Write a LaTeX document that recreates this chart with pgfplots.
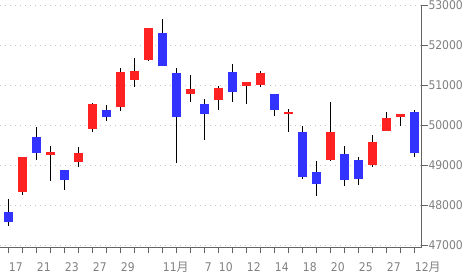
\documentclass[border=0pt]{standalone}
\usepackage{fontspec}
\usepackage{pgfplots}
\usepackage{pgfplotstable}
\pgfplotsset{compat=1.18}
\setmainfont{DejaVu Sans}
\newfontfamily\tickfont[FakeStretch=0.9]{DejaVu Sans}
\newfontfamily\cjk{Noto Sans CJK JP}
\definecolor{candlered}{RGB}{255,34,34}
\definecolor{candleblue}{RGB}{51,51,255}
\definecolor{labelgray}{RGB}{128,128,128}
\definecolor{axisgray}{RGB}{100,100,100}
\definecolor{gridgray}{RGB}{195,195,195}

% x open high low close
\pgfplotstableread{
x open high low close
1 48330 49210 48270 49210
3 49260 49480 48610 49330
5 49080 49460 48970 49310
6 49920 50550 49830 50530
8 50460 51430 50360 51330
9 51130 51680 50970 51360
10 51630 52430 51610 52430
13 50780 51260 50580 50910
15 50630 50980 50380 50930
17 50980 51080 50530 51080
18 51010 51360 50960 51310
20 50280 50410 49830 50330
23 49130 50580 49110 49830
26 49010 49760 48960 49580
27 49860 50330 49860 50180
28 50210 50280 49980 50280
}\updata

\pgfplotstableread{
x open high low close
0 47830 48160 47490 47590
2 49710 49960 49130 49320
4 48880 48880 48380 48630
7 50380 50510 50110 50210
11 52310 52660 51480 51480
12 51310 51430 49060 50210
14 50530 50660 49630 50280
16 51330 51530 50580 50830
19 50780 50780 50230 50380
21 49830 49980 48660 48710
22 48830 49110 48230 48530
24 49280 49480 48480 48630
25 49130 49210 48510 48660
29 50330 50380 49210 49310
}\downdata

\begin{document}
\begin{tikzpicture}
\useasboundingbox (0,-31pt) rectangle (470pt,241.7pt+5.3pt);
\begin{axis}[
  at={(0,0)}, anchor=south west,
  scale only axis,
  width=421.7pt, height=241.7pt,
  xmin=-0.59, xmax=29.53,
  ymin=46960, ymax=53000,
  axis x line*=bottom,
  axis y line*=right,
  axis line style={draw=axisgray, line width=1pt},
  tick align=outside,
  major tick length=6pt,
  tick style={draw=axisgray, line width=1pt},
  xtick={0,...,29},
  xticklabels={17,,21,,23,,27,,29,,,11{\cjk 月},,,7,10,,12,,14,,18,,20,,25,,27,,12{\cjk 月}},
  ytick={47000,48000,...,53000},
  scaled y ticks=false,
  ymajorgrids,
  grid style={draw=gridgray, line width=0.9pt, dash pattern=on 1pt off 4pt},
  /pgf/number format/assume math mode=true,
  /pgf/number format/1000 sep={},
  ticklabel style={font=\tickfont\fontsize{12}{12}\selectfont, text=labelgray, inner sep=0pt},
  xticklabel style={anchor=base west, yshift=-18.7pt, xshift=0.5pt},
  yticklabel style={anchor=west, xshift=0.6pt},
]
% wicks
\addplot[draw=none, mark=none,
  error bars/.cd, y dir=plus, y explicit, error mark=none,
  error bar style={draw=black, line width=1.2pt}]
  table[x=x, y=low, y error plus expr=\thisrow{high}-\thisrow{low}] {\updata};
\addplot[draw=none, mark=none,
  error bars/.cd, y dir=plus, y explicit, error mark=none,
  error bar style={draw=black, line width=1.2pt}]
  table[x=x, y=low, y error plus expr=\thisrow{high}-\thisrow{low}] {\downdata};
% bodies
\addplot[draw=none, mark=none,
  error bars/.cd, y dir=plus, y explicit, error mark=none,
  error bar style={draw=candlered, line width=9pt}]
  table[x=x, y=open, y error plus expr=\thisrow{close}-\thisrow{open}] {\updata};
\addplot[draw=none, mark=none,
  error bars/.cd, y dir=plus, y explicit, error mark=none,
  error bar style={draw=candleblue, line width=9pt}]
  table[x=x, y=close, y error plus expr=\thisrow{open}-\thisrow{close}] {\downdata};
\end{axis}
\end{tikzpicture}
\end{document}
